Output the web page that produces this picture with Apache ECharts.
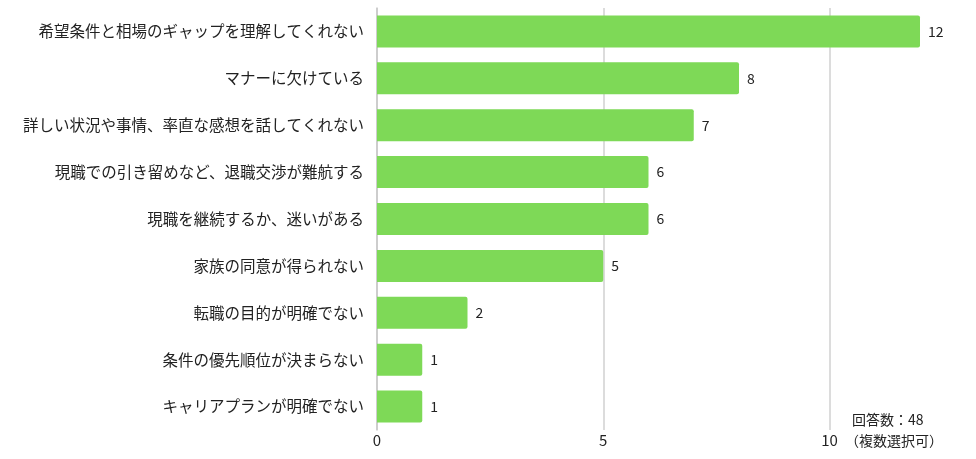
<!DOCTYPE html>
<html>
<head>
<meta charset="utf-8">
<script src="https://cdn.jsdelivr.net/npm/echarts@6/dist/echarts.min.js"></script>
<style>
  html, body { margin: 0; padding: 0; background: #fff; }
  #main { width: 976px; height: 459px; }
</style>
</head>
<body>
<div id="main"></div>
<script>
// 項目（上から順）
const categories = [
  '希望条件と相場のギャップを理解してくれない',
  'マナーに欠けている',
  '詳しい状況や事情、率直な感想を話してくれない',
  '現職での引き留めなど、退職交渉が難航する',
  '現職を継続するか、迷いがある',
  '家族の同意が得られない',
  '転職の目的が明確でない',
  '条件の優先順位が決まらない',
  'キャリアプランが明確でない'
];
const counts = [12, 8, 7, 6, 6, 5, 2, 1, 1];
const noteLines = ['回答数：48', '（複数選択可）'];

const FONT = '"Noto Sans CJK JP", "Noto Sans", sans-serif';
const chart = echarts.init(document.getElementById('main'));

chart.setOption({
  animation: false,
  textStyle: { fontFamily: FONT },
  grid: { left: 377, right: 56, top: 8, bottom: 29, containLabel: false },
  xAxis: {
    type: 'value',
    min: 0,
    max: 12,
    interval: 5,
    axisLine: { show: false },
    axisTick: { show: false },
    axisLabel: { color: '#222', fontSize: 15, margin: 3, showMaxLabel: false },
    splitLine: { show: true, showMaxLine: false, lineStyle: { color: '#d0d0d0', width: 1.5 } }
  },
  yAxis: {
    type: 'category',
    inverse: true,
    data: categories,
    axisLine: { show: true, lineStyle: { color: '#c8c8c8', width: 1.5 } },
    axisTick: { show: false },
    axisLabel: { color: '#222', fontSize: 15.5, margin: 13 }
  },
  series: [{
    type: 'bar',
    data: counts,
    barWidth: 32,
    itemStyle: { color: '#7ed957', borderRadius: [0, 2, 2, 0] },
    label: {
      show: true,
      position: 'right',
      distance: 8,
      color: '#222',
      fontSize: 14
    }
  }],
  graphic: [
    {
      type: 'text', left: 852, top: 413,
      style: { text: noteLines[0], fill: '#222', font: '14px ' + FONT }
    },
    {
      type: 'text', left: 845, top: 434,
      style: { text: noteLines[1], fill: '#222', font: '14px ' + FONT }
    }
  ]
});
</script>
</body>
</html>
